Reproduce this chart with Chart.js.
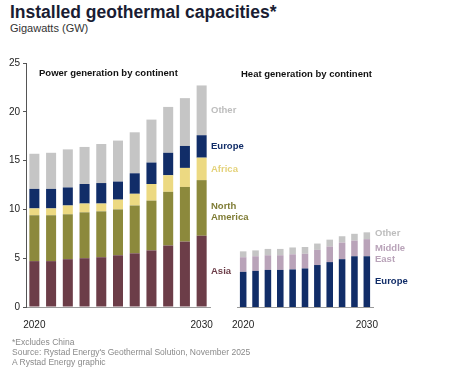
<!DOCTYPE html>
<html>
<head>
<meta charset="utf-8">
<script src="https://cdn.jsdelivr.net/npm/chart.js@4.4.1/dist/chart.umd.min.js"></script>
<style>
  body { margin: 0; width: 466px; height: 372px; background: #fff; position: relative; overflow: hidden;
         font-family: "Liberation Sans", Arial, sans-serif; color: #1c1f2e; }
  .abs { position: absolute; white-space: nowrap; }
  #title { left: 10px; top: 2px; font-size: 17.5px; font-weight: bold; color: #1a1d33; }
  #subtitle { left: 10px; top: 22px; font-size: 11px; color: #333; }
  .panel { font-size: 9.5px; font-weight: bold; color: #111; }
  #powerTitle { left: 39px; top: 67px; }
  #heatTitle { left: 241px; top: 68px; }
  .note { left: 12px; font-size: 8.5px; color: #8a8a8a; }
  canvas { position: absolute; top: 0; }
</style>
</head>
<body>
<div id="title" class="abs">Installed geothermal capacities*</div>
<div id="subtitle" class="abs">Gigawatts (GW)</div>
<canvas id="heatChart" width="241" height="340" style="left:225px"></canvas>
<canvas id="powerChart" width="262" height="340" style="left:0"></canvas>
<div id="powerTitle" class="abs panel">Power generation by continent</div>
<div id="heatTitle" class="abs panel">Heat generation by continent</div>
<div class="abs note" style="top:337px">*Excludes China</div>
<div class="abs note" style="top:347px">Source: Rystad Energy's Geothermal Solution, November 2025</div>
<div class="abs note" style="top:357px">A Rystad Energy graphic</div>
<script>
// categories
const years = ['2020', '2021', '2022', '2023', '2024', '2025', '2026', '2027', '2028', '2029', '2030'];
const yTicks = [0, 5, 10, 15, 20, 25];

// power generation (GW), stacked bottom to top
const powerAsia         = [4.7, 4.7, 4.9, 5.0, 5.1, 5.3, 5.5, 5.8, 6.3, 6.7, 7.3];
const powerNorthAmerica = [4.7, 4.7, 4.6, 4.7, 4.7, 4.7, 4.9, 5.1, 5.5, 5.6, 5.7];
const powerAfrica       = [0.7, 0.7, 0.9, 0.9, 0.8, 1.0, 1.2, 1.7, 1.7, 1.95, 2.3];
const powerEurope       = [2.0, 2.0, 1.85, 2.0, 2.1, 1.85, 2.1, 2.2, 2.3, 2.25, 2.3];
const powerOther        = [3.6, 3.7, 3.9, 3.8, 4.0, 4.2, 4.2, 4.4, 4.7, 4.9, 5.1];

// heat generation (GW), stacked bottom to top
const heatEurope     = [3.6, 3.7, 3.8, 3.8, 3.85, 3.95, 4.3, 4.6, 4.9, 5.2, 5.2];
const heatMiddleEast = [1.5, 1.5, 1.5, 1.5, 1.55, 1.5, 1.55, 1.6, 1.7, 1.6, 1.75];
const heatOther      = [0.6, 0.6, 0.65, 0.65, 0.7, 0.7, 0.65, 0.7, 0.65, 0.7, 0.7];

const FONT = '"Liberation Sans", Arial, sans-serif';
const colors = {
  asia: '#6c3d48', northAmerica: '#8c893c', africa: '#ecd982',
  europe: '#112d68', other: '#c5c5c5', middleEast: '#b9a3b9'
};

// writes the series names beside the last bar, centred on each segment
const segmentLabels = {
  id: 'segmentLabels',
  afterDatasetsDraw(chart, args, opts) {
    const { ctx, chartArea, scales: { y } } = chart;
    const last = chart.data.labels.length - 1;
    let base = 0;
    ctx.save();
    ctx.font = 'bold 9.5px ' + FONT;
    ctx.textBaseline = 'middle';
    ctx.textAlign = 'left';
    chart.data.datasets.forEach((ds) => {
      const v = ds.data[last];
      const mid = y.getPixelForValue(base + v / 2) + (ds.labelNudge || 0);
      base += v;
      const lines = ds.label.split(' ');
      ctx.fillStyle = ds.textColor || ds.backgroundColor;
      lines.forEach((line, i) => {
        ctx.fillText(line, chartArea.right + opts.gap, mid + (i - (lines.length - 1) / 2) * 11);
      });
    });
    ctx.restore();
  }
};

function makeScales(showY, yWidth) {
  return {
    x: {
      stacked: true,
      offset: true,
      border: { display: true, color: '#9a9a9a', width: 1 },
      grid: { display: false },
      ticks: {
        autoSkip: false, maxRotation: 0, padding: 4,
        color: '#222', font: { family: FONT, size: 10 },
        callback: (v, i) => (i === 0 || i === years.length - 1) ? years[i] : ''
      },
      afterFit: (s) => { s.height = 33; }
    },
    y: {
      display: showY,
      stacked: true,
      min: 0, max: 25,
      afterBuildTicks: (s) => { s.ticks = yTicks.map(v => ({ value: v })); },
      border: { display: true, color: '#555', width: 1 },
      grid: { drawOnChartArea: false, drawTicks: true, tickLength: 3, color: '#555' },
      ticks: { padding: 3, color: '#222', font: { family: FONT, size: 10 } },
      afterFit: (s) => { s.width = yWidth; }
    }
  };
}

new Chart(document.getElementById('powerChart').getContext('2d'), {
  type: 'bar',
  data: {
    labels: years,
    datasets: [
      { label: 'Asia', data: powerAsia, backgroundColor: colors.asia },
      { label: 'North America', data: powerNorthAmerica, backgroundColor: colors.northAmerica, textColor: '#7f7c35', labelNudge: 4 },
      { label: 'Africa', data: powerAfrica, backgroundColor: colors.africa, textColor: '#e4d27a' },
      { label: 'Europe', data: powerEurope, backgroundColor: colors.europe },
      { label: 'Other', data: powerOther, backgroundColor: colors.other, textColor: '#bdbdbd' }
    ]
  },
  options: {
    responsive: false,
    animation: false,
    devicePixelRatio: 1,
    layout: { padding: { top: 63, left: 0, right: 52, bottom: 0 } },
    datasets: { bar: { categoryPercentage: 1, barPercentage: 0.6 } },
    scales: makeScales(true, 26),
    plugins: { legend: { display: false }, tooltip: { enabled: false }, segmentLabels: { gap: 1 } }
  },
  plugins: [segmentLabels]
});

new Chart(document.getElementById('heatChart').getContext('2d'), {
  type: 'bar',
  data: {
    labels: years,
    datasets: [
      { label: 'Europe', data: heatEurope, backgroundColor: colors.europe },
      { label: 'Middle East', data: heatMiddleEast, backgroundColor: colors.middleEast, labelNudge: 6 },
      { label: 'Other', data: heatOther, backgroundColor: colors.other, textColor: '#bdbdbd', labelNudge: -2 }
    ]
  },
  options: {
    responsive: false,
    animation: false,
    devicePixelRatio: 1,
    layout: { padding: { top: 63, left: 12, right: 93, bottom: 0 } },
    datasets: { bar: { categoryPercentage: 1, barPercentage: 0.53 } },
    scales: makeScales(false, 0),
    plugins: { legend: { display: false }, tooltip: { enabled: false }, segmentLabels: { gap: 2 } }
  },
  plugins: [segmentLabels]
});
</script>
</body>
</html>
